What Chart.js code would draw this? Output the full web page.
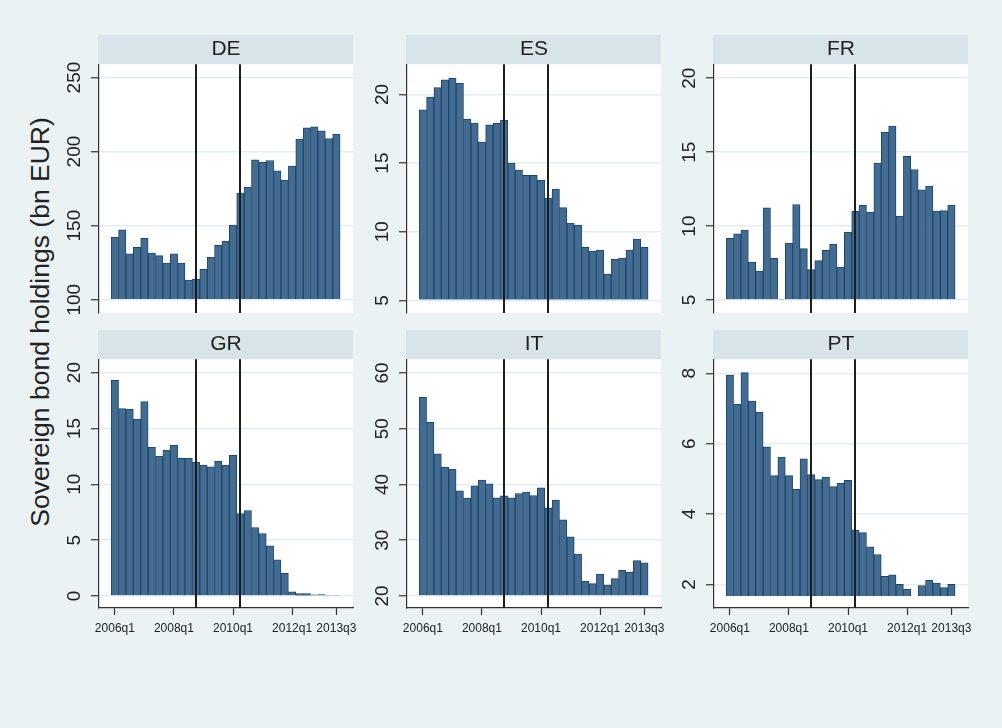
<!DOCTYPE html>
<html>
<head>
<meta charset="utf-8">
<script src="https://cdn.jsdelivr.net/npm/chart.js@4.4.1/dist/chart.umd.min.js"></script>
<style>
  body { margin: 0; width: 1002px; height: 728px; overflow: hidden; position: relative; background: #eaf2f3; font-family: "Liberation Sans", Arial, sans-serif; }
  canvas { position: absolute; }
  #ytitle { position: absolute; left: 40px; top: 322px; transform: translate(-50%, -50%) rotate(-90deg); font-size: 26.5px; color: #222; white-space: nowrap; }
</style>
</head>
<body>
<div id="ytitle">Sovereign bond holdings (bn EUR)</div>
<script>
// quarters 2006q1 .. 2013q3
const quarters = ['2006q1','2006q2','2006q3','2006q4','2007q1','2007q2','2007q3','2007q4',
  '2008q1','2008q2','2008q3','2008q4','2009q1','2009q2','2009q3','2009q4',
  '2010q1','2010q2','2010q3','2010q4','2011q1','2011q2','2011q3','2011q4',
  '2012q1','2012q2','2012q3','2012q4','2013q1','2013q2','2013q3'];
const xTickLabels = ['2006q1', '2008q1', '2010q1', '2012q1', '2013q3'];
const eventQuarters = ['2008q4', '2010q2'];

const countries = ['DE', 'ES', 'FR', 'GR', 'IT', 'PT'];

const holdingsDE = [142.3,147.2,131.0,135.3,141.6,131.5,129.7,124.7,131.0,124.7,113.3,113.9,120.5,128.6,136.7,139.6,
  150.4,172.0,176.0,194.4,192.9,194.0,187.0,180.7,190.2,208.4,216.0,216.7,214.0,208.8,211.8];
const holdingsES = [18.88,19.81,20.49,21.07,21.17,20.80,18.20,17.91,16.53,17.79,17.89,18.13,15.00,14.49,14.10,14.10,
  13.76,12.45,13.11,11.75,10.63,10.49,8.86,8.59,8.64,6.92,7.99,8.08,8.67,9.47,8.86];
const holdingsFR = [9.17,9.48,9.73,7.57,6.96,11.24,7.82,5.05,8.85,11.46,8.47,7.05,7.66,8.36,8.78,7.23,
  9.59,10.99,11.40,10.95,14.26,16.35,16.76,10.68,14.71,13.83,12.45,12.70,11.01,11.04,11.42];
const holdingsGR = [19.31,16.77,16.71,15.81,17.40,13.33,12.53,13.06,13.48,12.32,12.32,11.96,11.72,11.57,12.08,11.69,
  12.62,7.38,7.65,6.13,5.59,4.48,3.23,2.03,0.36,0.21,0.21,0.09,0.12,0.06,0.06];
const holdingsIT = [55.63,51.14,45.51,43.11,42.75,38.86,37.54,39.76,40.78,40.12,37.60,37.96,37.60,38.38,38.62,38.02,
  39.40,35.81,37.19,33.65,30.60,27.49,22.63,22.22,23.89,21.98,23.11,24.61,24.25,26.35,25.93];
const holdingsPT = [7.95,7.12,8.02,7.21,6.89,5.91,5.09,5.62,5.09,4.70,5.57,5.12,4.98,5.05,4.78,4.87,
  4.96,3.54,3.47,3.07,2.85,2.23,2.27,2.00,1.86,null,1.97,2.12,2.04,1.91,2.00];

const yTicksDE = [100, 150, 200, 250];
const yTicksES = [5, 10, 15, 20];
const yTicksFR = [5, 10, 15, 20];
const yTicksGR = [0, 5, 10, 15, 20];
const yTicksIT = [20, 30, 40, 50, 60];
const yTicksPT = [2, 4, 6, 8];

// value-axis extent [min, max] and the value the bars grow from
const yRangeDE = [91, 259], baseDE = 100;
const yRangeES = [4.08, 22.2], baseES = 5;
const yRangeFR = [4.12, 20.95], baseFR = 5;
const yRangeGR = [-1.08, 21.2], baseGR = 0;
const yRangeIT = [17.84, 62.46], baseIT = 20;
const yRangePT = [1.33, 8.4], basePT = 1.67;

const series = [holdingsDE, holdingsES, holdingsFR, holdingsGR, holdingsIT, holdingsPT];
const yTicks = [yTicksDE, yTicksES, yTicksFR, yTicksGR, yTicksIT, yTicksPT];
const yRanges = [yRangeDE, yRangeES, yRangeFR, yRangeGR, yRangeIT, yRangePT];
const bases = [baseDE, baseES, baseFR, baseGR, baseIT, basePT];

const FONT = '"Liberation Sans", Arial, Helvetica, sans-serif';
Chart.defaults.font.family = FONT;

const plotLefts = [99, 407, 714];
const rowTops = [35, 330];
const plotW = 254, plotH = 249, headH = 29.2;
const yAxisW = 60, padRight = 14, xAxisH = 40, padBottomTop = 22;
const yLabelSize = 19;

const meas = document.createElement('canvas').getContext('2d');
meas.font = `${yLabelSize}px ${FONT}`;

const panelDecor = {
  id: 'panelDecor',
  beforeDraw(chart) {
    const { ctx, chartArea: a } = chart;
    ctx.save();
    ctx.fillStyle = '#ffffff';
    ctx.fillRect(a.left, a.top, a.width, a.height);
    const t = chart.titleBlock;
    ctx.fillStyle = '#d8e4ea';
    ctx.fillRect(a.left - 1, t.top, a.width + 1, t.height);
    ctx.restore();
  },
  afterDatasetsDraw(chart) {
    const { ctx, chartArea: a, scales: { x } } = chart;
    ctx.save();
    ctx.strokeStyle = '#1e1e1e';
    ctx.lineWidth = 2;
    eventQuarters.forEach(q => {
      const px = Math.round(x.getPixelForValue(quarters.indexOf(q)));
      ctx.beginPath();
      ctx.moveTo(px, a.top);
      ctx.lineTo(px, a.bottom);
      ctx.stroke();
    });
    ctx.restore();
  }
};

countries.forEach((name, k) => {
  const col = k % 3, row = Math.floor(k / 3);
  const bottomRow = row === 1;
  const canvas = document.createElement('canvas');
  const w = yAxisW + plotW + padRight;
  const h = Math.round(headH + plotH + (bottomRow ? xAxisH : padBottomTop));
  canvas.width = w;
  canvas.height = h;
  canvas.style.left = (plotLefts[col] - yAxisW) + 'px';
  canvas.style.top = rowTops[row] + 'px';
  document.body.appendChild(canvas);

  const ticks = yTicks[k];
  const widest = Math.max(...ticks.map(t => meas.measureText(String(t)).width));

  new Chart(canvas, {
    type: 'bar',
    data: {
      datasets: [{
        data: series[k].map((v, i) => ({ x: i, y: v })),
        base: bases[k],
        backgroundColor: '#446c90',
        borderColor: '#1a476f',
        borderWidth: 1,
        barPercentage: 1,
        categoryPercentage: 1
      }]
    },
    options: {
      responsive: false,
      animation: false,
      layout: { padding: { left: 0, right: padRight, top: 0, bottom: bottomRow ? 0 : padBottomTop } },
      plugins: {
        legend: { display: false },
        tooltip: { enabled: false },
        title: {
          display: true,
          text: name,
          fullSize: false,
          color: '#222',
          font: { size: 21, weight: 'normal' },
          padding: { top: 2, bottom: 2 }
        }
      },
      scales: {
        x: {
          type: 'linear',
          min: -2.15,
          max: 32.25,
          offset: false,
          display: bottomRow,
          grid: { offset: false, drawOnChartArea: false, tickLength: 7, tickColor: '#333', tickWidth: 1.2 },
          border: { color: '#333', width: 1.2 },
          ticks: {
            color: '#222',
            font: { size: 12 },
            padding: 6,
            maxRotation: 0,
            autoSkip: false,
            callback: v => quarters[v]
          },
          afterBuildTicks: s => { s.ticks = xTickLabels.map(l => ({ value: quarters.indexOf(l) })); },
          afterFit: s => { if (bottomRow) s.height = xAxisH; }
        },
        y: {
          min: yRanges[k][0],
          max: yRanges[k][1],
          beginAtZero: false,
          grid: { color: '#e4eef2', lineWidth: 1.5, tickLength: 8, tickColor: '#333', tickWidth: 1.2 },
          border: { color: '#333', width: 1.2 },
          ticks: {
            color: '#222',
            font: { size: yLabelSize },
            minRotation: 90,
            maxRotation: 90,
            crossAlign: 'center',
            padding: 24 - 8 - widest / 2
          },
          afterBuildTicks: s => { s.ticks = ticks.map(v => ({ value: v })); },
          afterFit: s => { s.width = yAxisW; }
        }
      }
    },
    plugins: [panelDecor]
  });
});
</script>
</body>
</html>
